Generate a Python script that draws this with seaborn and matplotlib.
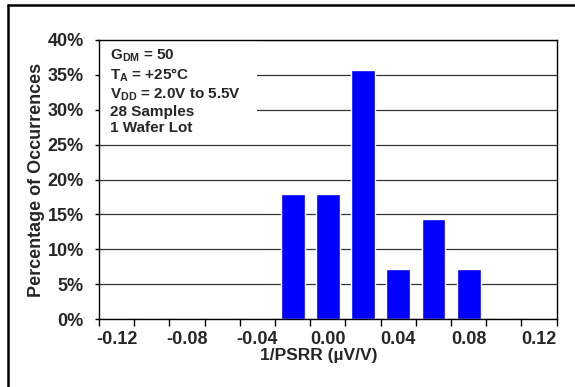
import numpy as np
import pandas as pd
import matplotlib
matplotlib.use("Agg")
import matplotlib.pyplot as plt
from matplotlib.lines import Line2D
from matplotlib.patches import Rectangle
import seaborn as sns

# histogram bins (1/PSRR, uV/V) and percentage of the 28 samples
bins = ["-0.12", "-0.10", "-0.08", "-0.06", "-0.04", "-0.02", "0.00",
        "0.02", "0.04", "0.06", "0.08", "0.10", "0.12"]
percent = [0, 0, 0, 0, 0, 17.86, 17.86, 35.71, 7.14, 14.29, 7.14, 0, 0]
shown_labels = ["-0.12", "-0.08", "-0.04", "0.00", "0.04", "0.08", "0.12"]
yticks = [0, 5, 10, 15, 20, 25, 30, 35, 40]
notes = [r"G$_{\mathrm{DM}}$ = 50",
         r"T$_{\mathrm{A}}$ = +25°C",
         r"V$_{\mathrm{DD}}$ = 2.0V to 5.5V",
         "28 Samples",
         "1 Wafer Lot"]

sns.set_theme(style="ticks")
plt.rcParams["font.family"] = ["Liberation Sans", "DejaVu Sans"]
plt.rcParams["font.weight"] = "bold"
plt.rcParams["mathtext.fontset"] = "custom"
plt.rcParams["mathtext.rm"] = "Liberation Sans:bold"
plt.rcParams["mathtext.default"] = "rm"

df = pd.DataFrame({"bin": bins, "pct": percent})

fig = plt.figure(figsize=(5.75, 3.87), dpi=100)
ax = fig.add_axes([99 / 575, 68 / 387, 457.7 / 575, 279 / 387])

sns.barplot(data=df, x="bin", y="pct", order=bins, color="#0000FF",
            saturation=1, width=0.68, ax=ax, zorder=2)

ax.set_xlim(-0.5, len(bins) - 0.5)
ax.set_ylim(0, 40)
ax.set_yticks(yticks)
ax.set_yticklabels([f"{v}%" for v in yticks], fontsize=13, fontweight="bold")

# category axis: ticks on bin edges, labels on every other bin centre
ax.set_xticks(np.arange(-0.5, len(bins), 1))
ax.set_xticklabels([])
ax.set_xticks([bins.index(s) for s in shown_labels], minor=True)
ax.set_xticklabels(shown_labels, minor=True, fontsize=13, fontweight="bold")
ax.tick_params(axis="x", which="major", length=5, width=1, color="black")
ax.tick_params(axis="x", which="minor", length=0, pad=9)
ax.tick_params(axis="y", length=3, width=1, color="black", pad=8)

ax.set_axisbelow(True)
ax.yaxis.grid(True, color="#333333", linewidth=0.9)
ax.xaxis.grid(False)
for s in ax.spines.values():
    s.set_visible(True)
    s.set_color("black")
    s.set_linewidth(1)

ax.set_xlabel("1/PSRR (µV/V)", fontsize=12.5, fontweight="bold")
ax.xaxis.set_label_coords(0.48, -0.105)
ax.set_ylabel("Percentage of Occurrences", fontsize=13, fontweight="bold")
ax.yaxis.set_label_coords(-0.119, 0.5)

# white legend box hiding the gridlines
ax.add_patch(Rectangle((0.003, 0.66), 0.342, 0.337, transform=ax.transAxes,
                       facecolor="white", edgecolor="none", zorder=1))
ax.text(0.024, 0.972, "\n".join(notes), transform=ax.transAxes, ha="left",
        va="top", fontsize=11, fontweight="bold", linespacing=1.2, zorder=3)

# outer frame (left and top edges)
fig.add_artist(Line2D([7.5 / 575, 7.5 / 575], [0, 1 - 5 / 387],
                      color="black", linewidth=1.8))
fig.add_artist(Line2D([7.5 / 575, 1], [1 - 5 / 387, 1 - 5 / 387],
                      color="black", linewidth=1.8))

fig.savefig("out.png", dpi=100)
